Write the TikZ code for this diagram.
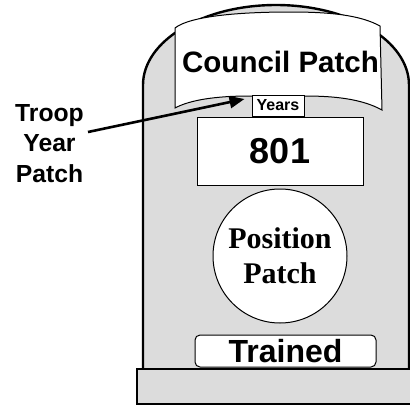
\documentclass[tikz,border=0pt]{standalone}
\usepackage{fontspec}
\setmainfont{Liberation Sans}
\newfontfamily\serifbold{Liberation Serif}
\usetikzlibrary{arrows.meta}
\definecolor{tombgray}{RGB}{220,220,220}
\tikzset{
  outline/.style={draw=black, line width=2.4pt, fill=tombgray},
  patchbox/.style={draw=black, line width=1pt, fill=white, inner sep=0pt},
  pointer/.style={draw=black, line width=2.6pt, -{Triangle[length=15pt,width=12pt]}},
}
\begin{document}
\begin{tikzpicture}[x=1pt,y=-1pt]
\useasboundingbox (0,0) rectangle (410,405);
% tombstone body
\path[outline] (143,370) -- (143,85) arc[start angle=180, end angle=0, x radius=133, y radius=-80] -- (409,370) -- cycle;
% base
\path[outline] (137,369) rectangle (413,404);
% council banner
\path[draw=black, line width=1pt, fill=white]
  (175,28) .. controls (190,16) and (240,12) .. (290,12)
  .. controls (330,12) and (360,15) .. (380,26)
  -- (382,110)
  .. controls (362,99) and (335,96) .. (305,96)
  -- (250,96)
  .. controls (215,96) and (190,100) .. (175,108) -- cycle;
\node (council) [anchor=base, font=\bfseries\fontsize{29.5}{35}\selectfont] at (280.5,72) {Council Patch};
% years box
\node (years) [patchbox, minimum width=52pt, minimum height=21pt, font=\bfseries\fontsize{16}{19}\selectfont] at (278,105.5) {Years};
% troop number box
\node (troop) [patchbox, minimum width=166pt, minimum height=68pt, font=\bfseries\fontsize{36}{42}\selectfont] at (280,151) {801};
% position patch
\node (position) [patchbox, circle, minimum size=134pt, align=center, font=\serifbold\bfseries\fontsize{30}{35}\selectfont] at (280,256) {Position\\Patch};
% trained strip
\node (trained) [patchbox, rounded corners=5pt, minimum width=181pt, minimum height=32pt, font=\bfseries\fontsize{32}{38}\selectfont] at (285.5,351) {Trained};
% label and arrow
\node (label) [anchor=north, align=center, inner sep=0pt, font=\bfseries\fontsize{24.7}{30.5}\selectfont] at (49.5,104.3) {Troop\\Year\\Patch};
\coordinate (tail) at (88,132);
\draw[pointer] (tail) -- ([xshift=-7pt,yshift=6.5pt]years.west);
\end{tikzpicture}
\end{document}
